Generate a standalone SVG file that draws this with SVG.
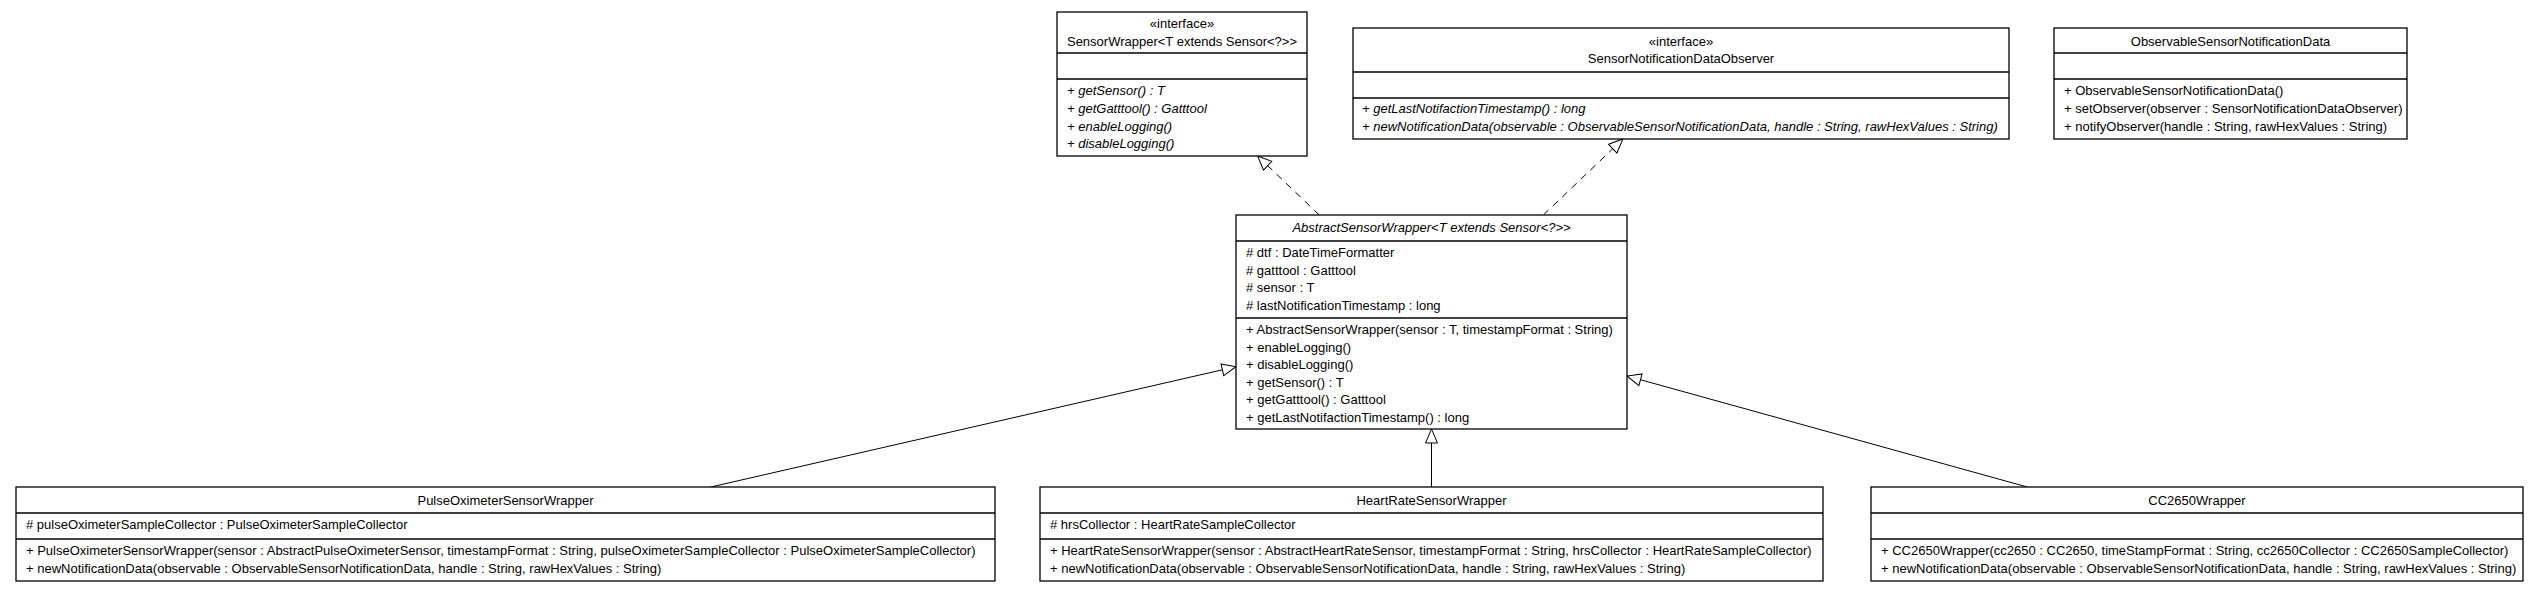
<svg xmlns="http://www.w3.org/2000/svg" width="2538" height="592" viewBox="0 0 2538 592">
<defs>
<style>
.box{fill:#fff;stroke:#000;stroke-width:1.3}
.div{stroke:#000;stroke-width:1.3}
text{font-family:"Liberation Sans",Arial,sans-serif;font-size:13px;fill:#000}
.c{text-anchor:middle}
.i{font-style:italic}
.solid{fill:none;stroke:#000;stroke-width:1}
.dash{fill:none;stroke:#000;stroke-width:1;stroke-dasharray:7,6}
</style>
<marker id="tri" viewBox="-1 -8 17 16" refX="15" refY="0" markerWidth="17" markerHeight="16" markerUnits="userSpaceOnUse" orient="auto">
<path d="M1,-6 L15,0 L1,6 Z" fill="#fff" stroke="#000" stroke-width="1" stroke-dasharray="none"/>
</marker>
</defs>
<rect width="2538" height="592" fill="#fff"/>

<g id="connectors">
<line class="dash" x1="1319.3" y1="215" x2="1257.5" y2="156" marker-end="url(#tri)"/>
<line class="dash" x1="1543.4" y1="215" x2="1622.9" y2="139" marker-end="url(#tri)"/>
<line class="solid" x1="710.8" y1="487" x2="1236" y2="366.7" marker-end="url(#tri)"/>
<line class="solid" x1="1431.5" y1="487" x2="1431.5" y2="429" marker-end="url(#tri)"/>
<line class="solid" x1="2027.3" y1="487" x2="1627" y2="376" marker-end="url(#tri)"/>
</g>

<g id="SensorWrapper">
<rect class="box" x="1057" y="12" width="250" height="144"/>
<line class="div" x1="1057" y1="53" x2="1307" y2="53"/>
<line class="div" x1="1057" y1="79" x2="1307" y2="79"/>
<text class="c" x="1182" y="27.5">«interface»</text>
<text class="c" x="1182" y="46">SensorWrapper&lt;T extends Sensor&lt;?&gt;&gt;</text>
<text class="i" x="1067" y="94.5">+ getSensor() : T</text>
<text class="i" x="1067" y="112.5">+ getGatttool() : Gatttool</text>
<text class="i" x="1067" y="130.5">+ enableLogging()</text>
<text class="i" x="1067" y="148">+ disableLogging()</text>
</g>

<g id="SensorNotificationDataObserver">
<rect class="box" x="1353" y="28" width="656" height="111"/>
<line class="div" x1="1353" y1="72" x2="2009" y2="72"/>
<line class="div" x1="1353" y1="98" x2="2009" y2="98"/>
<text class="c" x="1681" y="46">«interface»</text>
<text class="c" x="1681" y="62.5">SensorNotificationDataObserver</text>
<text class="i" x="1362" y="112.5">+ getLastNotifactionTimestamp() : long</text>
<text class="i" x="1362" y="130.5">+ newNotificationData(observable : ObservableSensorNotificationData, handle : String, rawHexValues : String)</text>
</g>

<g id="ObservableSensorNotificationData">
<rect class="box" x="2054" y="28" width="353" height="111"/>
<line class="div" x1="2054" y1="53" x2="2407" y2="53"/>
<line class="div" x1="2054" y1="79" x2="2407" y2="79"/>
<text class="c" x="2230.5" y="45.5">ObservableSensorNotificationData</text>
<text x="2064" y="94.5">+ ObservableSensorNotificationData()</text>
<text x="2064" y="112.5">+ setObserver(observer : SensorNotificationDataObserver)</text>
<text x="2064" y="130.5">+ notifyObserver(handle : String, rawHexValues : String)</text>
</g>

<g id="AbstractSensorWrapper">
<rect class="box" x="1236" y="215" width="391" height="214"/>
<line class="div" x1="1236" y1="241" x2="1627" y2="241"/>
<line class="div" x1="1236" y1="318" x2="1627" y2="318"/>
<text class="c i" x="1431.5" y="231.5">AbstractSensorWrapper&lt;T extends Sensor&lt;?&gt;&gt;</text>
<text x="1246" y="256.5"># dtf : DateTimeFormatter</text>
<text x="1246" y="274.5"># gatttool : Gatttool</text>
<text x="1246" y="291.5"># sensor : T</text>
<text x="1246" y="309.5"># lastNotificationTimestamp : long</text>
<text x="1246" y="333.5">+ AbstractSensorWrapper(sensor : T, timestampFormat : String)</text>
<text x="1246" y="351.5">+ enableLogging()</text>
<text x="1246" y="368.5">+ disableLogging()</text>
<text x="1246" y="386.5">+ getSensor() : T</text>
<text x="1246" y="403.5">+ getGatttool() : Gatttool</text>
<text x="1246" y="421.5">+ getLastNotifactionTimestamp() : long</text>
</g>

<g id="PulseOximeterSensorWrapper">
<rect class="box" x="16" y="487" width="979" height="94"/>
<line class="div" x1="16" y1="513" x2="995" y2="513"/>
<line class="div" x1="16" y1="539" x2="995" y2="539"/>
<text class="c" x="505.5" y="504.5">PulseOximeterSensorWrapper</text>
<text x="26" y="528.5"># pulseOximeterSampleCollector : PulseOximeterSampleCollector</text>
<text x="26" y="554.5">+ PulseOximeterSensorWrapper(sensor : AbstractPulseOximeterSensor, timestampFormat : String, pulseOximeterSampleCollector : PulseOximeterSampleCollector)</text>
<text x="26" y="572.5">+ newNotificationData(observable : ObservableSensorNotificationData, handle : String, rawHexValues : String)</text>
</g>

<g id="HeartRateSensorWrapper">
<rect class="box" x="1040" y="487" width="783" height="94"/>
<line class="div" x1="1040" y1="513" x2="1823" y2="513"/>
<line class="div" x1="1040" y1="539" x2="1823" y2="539"/>
<text class="c" x="1431.5" y="504.5">HeartRateSensorWrapper</text>
<text x="1050" y="528.5"># hrsCollector : HeartRateSampleCollector</text>
<text x="1050" y="554.5">+ HeartRateSensorWrapper(sensor : AbstractHeartRateSensor, timestampFormat : String, hrsCollector : HeartRateSampleCollector)</text>
<text x="1050" y="572.5">+ newNotificationData(observable : ObservableSensorNotificationData, handle : String, rawHexValues : String)</text>
</g>

<g id="CC2650Wrapper">
<rect class="box" x="1871" y="487" width="652" height="94"/>
<line class="div" x1="1871" y1="513" x2="2523" y2="513"/>
<line class="div" x1="1871" y1="539" x2="2523" y2="539"/>
<text class="c" x="2197" y="504.5">CC2650Wrapper</text>
<text x="1881" y="554.5">+ CC2650Wrapper(cc2650 : CC2650, timeStampFormat : String, cc2650Collector : CC2650SampleCollector)</text>
<text x="1881" y="572.5">+ newNotificationData(observable : ObservableSensorNotificationData, handle : String, rawHexValues : String)</text>
</g>
</svg>
